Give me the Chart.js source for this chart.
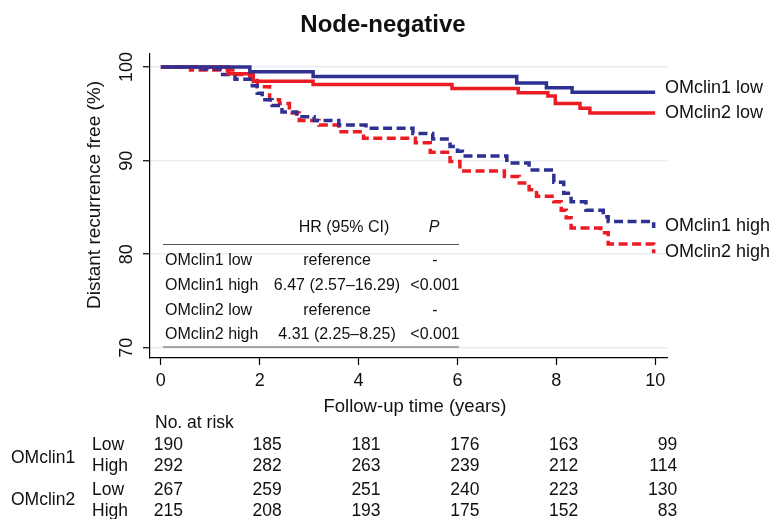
<!DOCTYPE html>
<html>
<head>
<meta charset="utf-8">
<script src="https://cdn.jsdelivr.net/npm/chart.js@4.4.1/dist/chart.umd.min.js"></script>
<style>
  html, body { margin: 0; padding: 0; background: #fff; }
</style>
</head>
<body>
<canvas id="km" width="777" height="519"></canvas>
<script>
// Values
const xTicks = [0, 2, 4, 6, 8, 10];
const yTicks = [70, 80, 90, 100];

const clin1LowTimes = [0, 1.80, 3.08, 7.20, 7.80, 8.32, 10.0];
const clin1LowSurv = [100, 99.5, 99.0, 98.3, 97.8, 97.3, 97.3];

const clin2LowTimes = [0, 1.36, 1.87, 3.08, 5.89, 7.23, 7.83, 7.98, 8.48, 8.68, 10.0];
const clin2LowSurv = [100, 99.3, 98.5, 98.15, 97.7, 97.25, 96.9, 96.1, 95.6, 95.1, 95.1];

const clin1HighTimes = [0, 0.75, 1.2, 1.5, 1.85, 1.95, 2.05, 2.25, 2.45, 2.75, 3.1, 3.6, 4.15,
  5.1, 5.5, 5.85, 6.0, 6.1, 7.0, 7.45, 7.95, 8.15, 8.3, 8.6, 8.95, 9.05, 9.97];
const clin1HighSurv = [100, 99.8, 99.2, 98.7, 98.0, 97.2, 96.5, 95.9, 95.2, 94.7, 94.3, 93.8, 93.45,
  92.9, 92.3, 91.5, 91.0, 90.5, 89.75, 89.0, 87.7, 86.5, 85.6, 84.7, 84.0, 83.5, 82.8];

const clin2HighTimes = [0, 0.6, 1.5, 1.8, 1.95, 2.2, 2.4, 2.6, 2.8, 3.2, 3.6, 4.1, 5.15, 5.45,
  5.85, 6.05, 6.95, 7.25, 7.45, 7.6, 7.95, 8.1, 8.2, 8.3, 8.9, 9.05, 9.97];
const clin2HighSurv = [100, 99.7, 99.2, 98.9, 97.9, 96.5, 96.1, 95.1, 94.3, 93.8, 93.1, 92.4, 91.9, 90.9,
  89.9, 88.9, 88.3, 87.6, 86.9, 86.2, 85.6, 84.7, 83.9, 82.8, 82.3, 81.1, 80.1];

const seriesNames = ["OMclin1 low", "OMclin2 low", "OMclin1 high", "OMclin2 high"];

// HR table
const hrRows = ["OMclin1 low", "OMclin1 high", "OMclin2 low", "OMclin2 high"];
const hrValues = ["reference", "6.47 (2.57\u201316.29)", "reference", "4.31 (2.25\u20138.25)"];
const pValues = ["-", "<0.001", "-", "<0.001"];

// Number at risk
const riskTimes = [0, 2, 4, 6, 8, 10];
const riskGroups = ["OMclin1", "OMclin2"];
const riskLevels = ["Low", "High"];
const risk1Low = [190, 185, 181, 176, 163, 99];
const risk1High = [292, 282, 263, 239, 212, 114];
const risk2Low = [267, 259, 251, 240, 223, 130];
const risk2High = [215, 208, 193, 175, 152, 83];

const BLUE = "#2e3192";
const RED = "#ec1c24";
const FONT = "'Liberation Sans', Arial, sans-serif";

function toPoints(times, surv) {
  return times.map((t, i) => ({ x: t, y: surv[i] }));
}

// draws title, axis titles, y tick labels, end labels and both tables
const annotations = {
  id: "annotations",
  afterDraw(chart) {
    const ctx = chart.ctx;
    const xs = chart.scales.x;
    const ys = chart.scales.y;
    ctx.save();
    ctx.fillStyle = "#111";

    // title
    ctx.font = "bold 24px " + FONT;
    ctx.textAlign = "center";
    ctx.textBaseline = "middle";
    ctx.fillText("Node-negative", 383, 25);

    // y tick labels, rotated
    ctx.font = "18px " + FONT;
    yTicks.forEach(v => {
      ctx.save();
      ctx.translate(127, ys.getPixelForValue(v));
      ctx.rotate(-Math.PI / 2);
      ctx.fillText(String(v), 0, 0);
      ctx.restore();
    });

    // y axis title
    ctx.save();
    ctx.translate(95, 195);
    ctx.rotate(-Math.PI / 2);
    ctx.font = "19px " + FONT;
    ctx.fillText("Distant recurrence free (%)", 0, 0);
    ctx.restore();

    // x axis title
    ctx.font = "18.5px " + FONT;
    ctx.fillText("Follow-up time (years)", 415, 407);

    // labels at the end of each curve
    ctx.font = "18px " + FONT;
    ctx.textAlign = "left";
    const labelY = [88, 113, 226, 252];
    seriesNames.forEach((name, i) => ctx.fillText(name, 665, labelY[i]));

    // HR table inside the plot
    ctx.font = "16px " + FONT;
    ctx.textAlign = "center";
    ctx.fillText("HR (95% CI)", 344, 228);
    ctx.font = "italic 16px " + FONT;
    ctx.fillText("P", 434, 228);
    ctx.strokeStyle = "#555";
    ctx.lineWidth = 1.2;
    ctx.beginPath();
    ctx.moveTo(163, 244.5); ctx.lineTo(459, 244.5);
    ctx.moveTo(163, 347); ctx.lineTo(459, 347);
    ctx.stroke();
    ctx.font = "16px " + FONT;
    const rowY = [261, 286, 311, 335];
    hrRows.forEach((r, i) => {
      ctx.textAlign = "left";
      ctx.fillText(r, 165, rowY[i]);
      ctx.textAlign = "center";
      ctx.fillText(hrValues[i], 337, rowY[i]);
      ctx.fillText(pValues[i], 435, rowY[i]);
    });

    // number at risk table
    ctx.font = "17.5px " + FONT;
    ctx.textAlign = "left";
    ctx.fillText("No. at risk", 155, 423);
    ctx.fillText(riskGroups[0], 11, 458);
    ctx.fillText(riskGroups[1], 11, 500);
    const riskRows = [risk1Low, risk1High, risk2Low, risk2High];
    const riskY = [445, 466, 490, 511];
    riskRows.forEach((row, r) => {
      ctx.textAlign = "left";
      ctx.fillText(riskLevels[r % 2], 92, riskY[r]);
      ctx.textAlign = "right";
      row.forEach((n, i) => {
        ctx.fillText(String(n), xs.getPixelForValue(riskTimes[i]) + 22, riskY[r]);
      });
    });
    ctx.restore();
  }
};

const lineStyle = { pointRadius: 0, borderWidth: 3.5, stepped: "before", fill: false, borderCapStyle: "butt" };

new Chart(document.getElementById("km"), {
  type: "line",
  data: {
    datasets: [
      { label: seriesNames[0], data: toPoints(clin1LowTimes, clin1LowSurv), borderColor: BLUE, ...lineStyle },
      { label: seriesNames[1], data: toPoints(clin2LowTimes, clin2LowSurv), borderColor: RED, ...lineStyle },
      { label: seriesNames[2], data: toPoints(clin1HighTimes, clin1HighSurv), borderColor: BLUE, borderDash: [9, 4.5], ...lineStyle },
      { label: seriesNames[3], data: toPoints(clin2HighTimes, clin2HighSurv), borderColor: RED, borderDash: [9, 4.5], ...lineStyle },
    ],
  },
  options: {
    responsive: false,
    animation: false,
    layout: { padding: { top: 54, right: 110, left: 0, bottom: 0 } },
    plugins: { legend: { display: false }, tooltip: { enabled: false } },
    scales: {
      x: {
        type: "linear",
        min: -0.22,
        max: 10.24,
        afterBuildTicks: s => { s.ticks = xTicks.map(v => ({ value: v })); },
        afterFit: s => { s.height = 161; },
        grid: { drawOnChartArea: false, tickLength: 7, tickColor: "#000", tickWidth: 1.2 },
        border: { color: "#000", width: 1.2 },
        ticks: { color: "#111", font: { family: FONT, size: 18 }, padding: 5, maxRotation: 0 },
      },
      y: {
        type: "linear",
        min: 68.9,
        max: 101.4,
        afterBuildTicks: s => { s.ticks = yTicks.map(v => ({ value: v })); },
        afterFit: s => { s.width = 150; },
        grid: { color: "#e6edf2", lineWidth: 1.5, tickLength: 7, tickColor: "#000", tickWidth: 1.2 },
        border: { color: "#000", width: 1.2 },
        ticks: { display: false },
      },
    },
  },
  plugins: [annotations],
});
</script>
</body>
</html>
